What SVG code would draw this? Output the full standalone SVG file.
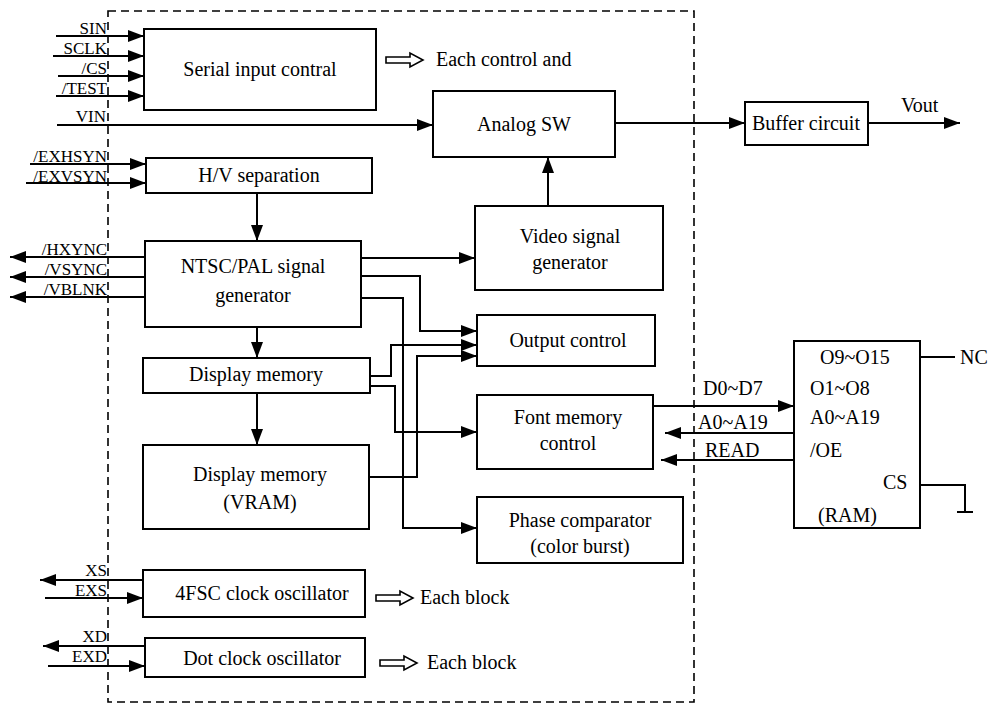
<svg xmlns="http://www.w3.org/2000/svg" width="990" height="704" viewBox="0 0 990 704">
<style>
text{font-family:"Liberation Serif","Times New Roman",serif;font-size:20px;fill:#000}
.box{fill:#fff;stroke:#000;stroke-width:2}
.c{text-anchor:middle}
.e{text-anchor:end;font-size:17px}
.ln{fill:none;stroke:#000;stroke-width:2}
.ar{fill:none;stroke:#000;stroke-width:2;marker-end:url(#ah)}
.hol{fill:#fff;stroke:#000;stroke-width:1.6}
.dash{fill:none;stroke:#000;stroke-width:1.6;stroke-dasharray:8 5}
</style>
<defs>
<marker id="ah" viewBox="0 0 16 12" refX="16" refY="6" markerWidth="16" markerHeight="12" markerUnits="userSpaceOnUse" orient="auto"><path d="M0,0 L16,6 L0,12 z" fill="#000"/></marker>
</defs>
<rect class="dash" x="108" y="11" width="586" height="691"/>
<g id="connectors">
<path class="ar" d="M56,36 H144"/>
<path class="ar" d="M53,56 H144"/>
<path class="ar" d="M58,76 H144"/>
<path class="ar" d="M56,96 H144"/>
<path class="ar" d="M57,125 H433"/>
<path class="ar" d="M615,123 H745"/>
<path class="ar" d="M868,123 H960"/>
<path class="ar" d="M30,164 H146"/>
<path class="ar" d="M26,183 H146"/>
<path class="ar" d="M257,193 V241"/>
<path class="ar" d="M145,257 H10"/>
<path class="ar" d="M145,277 H10"/>
<path class="ar" d="M145,297 H10"/>
<path class="ar" d="M548,206 V157"/>
<path class="ar" d="M361,258 H475"/>
<path class="ar" d="M257,327 V358"/>
<path class="ar" d="M257,393 V445"/>
<path class="ar" d="M361,276 H420 V331 H477"/>
<path class="ar" d="M361,298 H403 V528 H477"/>
<path class="ar" d="M370,376 H391 V345 H477"/>
<path class="ar" d="M370,386 H395 V432 H477"/>
<path class="ar" d="M369,477 H417 V356 H477"/>
<path class="ar" d="M653,406 H794"/>
<path class="ar" d="M794,433 H665"/>
<path class="ar" d="M794,460 H661"/>
<path class="ar" d="M143,580 H40"/>
<path class="ar" d="M45,598 H143"/>
<path class="ar" d="M145,646 H43"/>
<path class="ar" d="M48,666 H145"/>
<path class="ln" d="M920,357 H955"/>
<circle cx="919" cy="357" r="2"/>
<path class="ln" d="M920,485 H965 V512 M957,512 H973"/>
<path class="hol" d="M386,57 H410 V53 L423,60 L410,67 V63 H386 Z"/>
<path class="hol" d="M376,595 H400 V591 L413,598 L400,605 V601 H376 Z"/>
<path class="hol" d="M380,660 H404 V656 L417,663 L404,670 V666 H380 Z"/>
</g>
<g id="labels">
<text class="e" x="107" y="34">SIN</text>
<text class="e" x="107" y="54">SCLK</text>
<text class="e" x="107" y="74">/CS</text>
<text class="e" x="107" y="94">/TEST</text>
<text class="e" x="106" y="122">VIN</text>
<text class="e" x="107" y="162">/EXHSYN</text>
<text class="e" x="107" y="182">/EXVSYN</text>
<text class="e" x="107" y="255">/HXYNC</text>
<text class="e" x="107" y="275">/VSYNC</text>
<text class="e" x="107" y="295">/VBLNK</text>
<text class="e" x="107" y="576">XS</text>
<text class="e" x="107" y="596">EXS</text>
<text class="e" x="107" y="642">XD</text>
<text class="e" x="107" y="662">EXD</text>
<text x="436" y="66">Each control and</text>
<text x="420" y="604">Each block</text>
<text x="427" y="669">Each block</text>
<text x="901" y="112">Vout</text>
<text x="703" y="395">D0~D7</text>
<text x="698" y="429">A0~A19</text>
<text x="705" y="457">READ</text>
<text x="960" y="364">NC</text>
</g>
<g id="serial"><rect class="box" x="144" y="29" width="232" height="81"/><text class="c" x="260" y="76">Serial input contral</text></g>
<g id="analog"><rect class="box" x="433" y="91" width="182" height="66"/><text class="c" x="524" y="131">Analog SW</text></g>
<g id="buffer"><rect class="box" x="745" y="102" width="123" height="43"/><text class="c" x="806" y="130">Buffer circuit</text></g>
<g id="hv"><rect class="box" x="146" y="158" width="226" height="35"/><text class="c" x="259" y="182">H/V separation</text></g>
<g id="ntsc"><rect class="box" x="145" y="241" width="216" height="86"/><text class="c" x="253" y="273">NTSC/PAL signal</text><text class="c" x="253" y="302">generator</text></g>
<g id="video"><rect class="box" x="475" y="206" width="188" height="84"/><text class="c" x="570" y="243">Video signal</text><text class="c" x="570" y="269">generator</text></g>
<g id="output"><rect class="box" x="477" y="315" width="178" height="51"/><text class="c" x="568" y="347">Output control</text></g>
<g id="dispmem"><rect class="box" x="143" y="358" width="227" height="35"/><text class="c" x="256" y="381">Display memory</text></g>
<g id="vram"><rect class="box" x="143" y="445" width="226" height="84"/><text class="c" x="260" y="481">Display memory</text><text class="c" x="260" y="509">(VRAM)</text></g>
<g id="font"><rect class="box" x="477" y="395" width="176" height="74"/><text class="c" x="568" y="424">Font memory</text><text class="c" x="568" y="450">control</text></g>
<g id="phase"><rect class="box" x="477" y="497" width="206" height="66"/><text class="c" x="580" y="527">Phase comparator</text><text class="c" x="580" y="553">(color burst)</text></g>
<g id="fsc"><rect class="box" x="143" y="570" width="222" height="47"/><text class="c" x="262" y="600">4FSC clock oscillator</text></g>
<g id="dot"><rect class="box" x="145" y="638" width="220" height="39"/><text class="c" x="262" y="665">Dot clock oscillator</text></g>
<g id="ram"><rect class="box" x="794" y="341" width="126" height="187"/>
<text x="820" y="364">O9~O15</text><text x="810" y="395">O1~O8</text><text x="810" y="424">A0~A19</text><text x="810" y="457">/OE</text><text x="883" y="489">CS</text><text x="818" y="522">(RAM)</text></g>
</svg>
